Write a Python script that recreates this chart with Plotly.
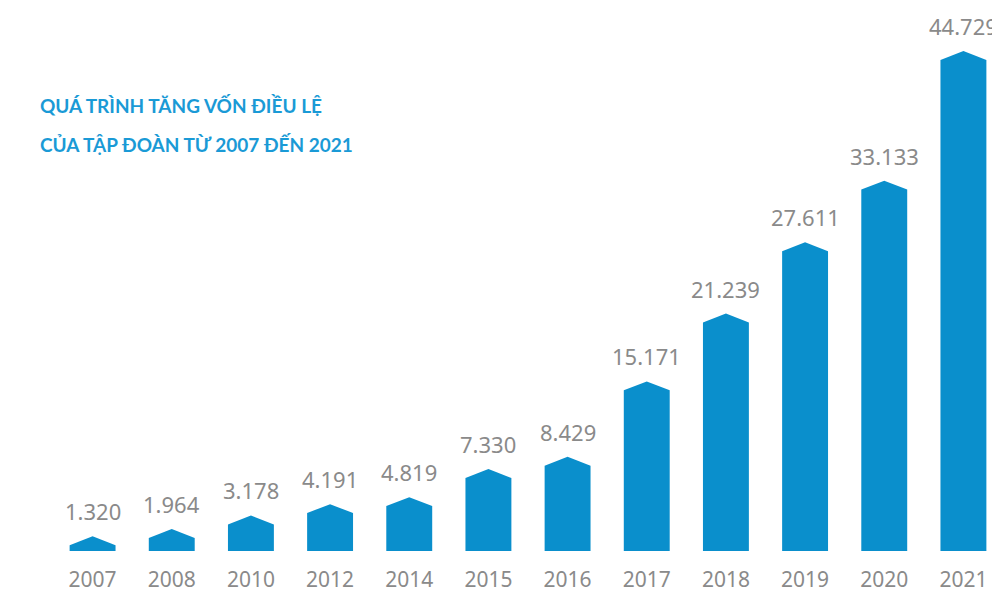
import plotly.graph_objects as go

years = ["2007", "2008", "2010", "2012", "2014", "2015", "2016", "2017", "2018", "2019", "2020", "2021"]
values = [1320, 1964, 3178, 4191, 4819, 7330, 8429, 15171, 21239, 27611, 33133, 44729]
labels = ["1.320", "1.964", "3.178", "4.191", "4.819", "7.330", "8.429", "15.171", "21.239", "27.611", "33.133", "44.729"]

blue = "#0a8fcc"
grey = "#8a8a8a"
half = 0.29   # half bar width in category units
roof = 800    # height of the pointed top in data units

fig = go.Figure()
for i, v in enumerate(values):
    xs = [i - half, i - half, i, i + half, i + half, i - half]
    ys = [0, v - roof, v, v - roof, 0, 0]
    fig.add_trace(go.Scatter(x=xs, y=ys, fill="toself", fillcolor=blue, mode="lines",
                             line=dict(width=0, color=blue), hoverinfo="skip"))

for i, v in enumerate(values):
    fig.add_annotation(x=i, y=v, text=labels[i], showarrow=False, yanchor="bottom", yshift=8,
                       font=dict(size=22, color=grey, family="Noto Sans"))

for k, t in enumerate(["QUÁ TRÌNH TĂNG VỐN ĐIỀU LỆ", "CỦA TẬP ĐOÀN TỪ 2007 ĐẾN 2021"]):
    fig.add_annotation(xref="paper", yref="paper", x=-15 / 950, y=(543 - (98 + 38 * k)) / 543,
                       text="<b>" + t + "</b>", showarrow=False, xanchor="left", yanchor="middle",
                       font=dict(size=19, color="#1a9ad6", family="Lato"))

fig.update_xaxes(range=[-0.5, 11.5], tickmode="array", tickvals=list(range(len(years))),
                 ticktext=years, showgrid=False, zeroline=False, showline=False,
                 ticklabelstandoff=14, automargin=False,
                 tickfont=dict(size=21, color=grey, family="Noto Sans"))
fig.update_yaxes(range=[0, 48576], visible=False, automargin=False)
fig.update_layout(width=1000, height=601, margin=dict(l=45, r=5, t=0, b=58, autoexpand=False),
                  plot_bgcolor="white", paper_bgcolor="white", showlegend=False)
fig.write_html("out.html")
